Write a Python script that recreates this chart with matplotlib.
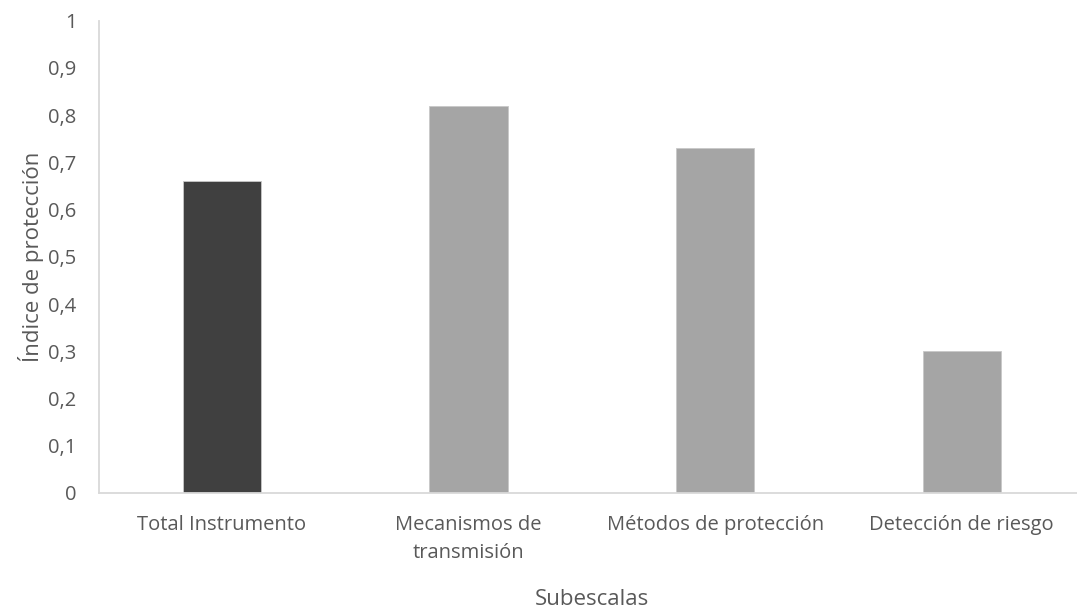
import numpy as np
import matplotlib.pyplot as plt

# Índice de protección por subescala
subescalas = ['Total Instrumento', 'Mecanismos de\ntransmisión',
              'Métodos de protección', 'Detección de riesgo']
indice = [0.66, 0.82, 0.73, 0.30]
colores = ['#404040', '#a5a5a5', '#a5a5a5', '#a5a5a5']

gris_texto = '#595959'
plt.rcParams['font.family'] = ['Open Sans', 'DejaVu Sans']

fig = plt.figure(figsize=(10.77, 6.10), dpi=100)
ax = fig.add_axes([0.0915, 0.192, 0.916, 0.774])

x = np.arange(len(subescalas))
ax.bar(x, indice, width=0.317, color=colores, edgecolor='#c8c8c8', linewidth=0.6)

ax.set_xlim(-0.5, 3.5)
ax.set_ylim(0, 1)
ax.set_yticks(np.arange(0, 1.01, 0.1))
ax.set_yticklabels(['0' if v == 0 else ('1' if v == 1 else ('%.1f' % v).replace('.', ','))
                    for v in np.arange(0, 1.01, 0.1)])
ax.set_xticks(x)
ax.set_xticklabels(subescalas, linespacing=1.5)

ax.tick_params(axis='both', length=0, labelsize=14.5, colors=gris_texto)
ax.tick_params(axis='y', pad=16)
ax.tick_params(axis='x', pad=16)

for lado in ['top', 'right']:
    ax.spines[lado].set_visible(False)
for lado in ['left', 'bottom']:
    ax.spines[lado].set_color('#d9d9d9')
    ax.spines[lado].set_linewidth(1.3)

ax.set_xlabel('Subescalas', fontsize=16, color=gris_texto, labelpad=19)
ax.set_ylabel('Índice de protección', fontsize=16, color=gris_texto, labelpad=3)

fig.savefig('out.png', dpi=100)
